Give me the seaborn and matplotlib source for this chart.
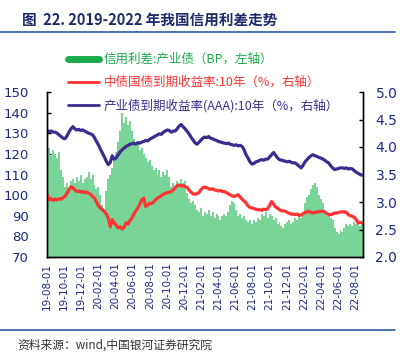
import numpy as np
import pandas as pd
import matplotlib
matplotlib.use("Agg")
import matplotlib.pyplot as plt
import matplotlib.dates as mdates
from matplotlib.lines import Line2D
import seaborn as sns

# ---------------- data (weekly readings, 2019-08 .. 2022-08) ----------------
start_date = "2019-08-02"

spread_bp = [
    121, 123, 119, 122, 120, 118, 121, 112, 109, 104,
    106, 103, 107, 108, 106, 109, 107, 110, 106, 108,
    109, 111, 108, 110, 105, 103, 104, 100, 95, 93,
    102, 108, 110, 113, 118, 121, 126, 131, 140, 135,
    138, 134, 136, 131, 127, 124, 125, 122, 123, 120,
    118, 116, 117, 114, 112, 113, 110, 112, 109, 111,
    110, 112, 109, 104, 106, 104, 107, 105, 108, 106,
    107, 101, 98, 96, 97, 95, 93, 92, 94, 90,
    92, 91, 93, 90, 92, 89, 91, 90, 88, 90,
    91, 90, 92, 95, 97, 96, 93, 90, 91, 89,
    90, 88, 87, 88, 86, 88, 87, 89, 88, 91,
    90, 92, 89, 91, 90, 88, 89, 86, 87, 85,
    84, 86, 87, 88, 86, 87, 89, 88, 90, 89,
    92, 96, 99, 100, 103, 105, 106, 104, 100, 98,
    96, 92, 90, 91, 89, 88, 84, 82, 81, 83,
    82, 84, 86, 85, 86, 85, 87, 86, 87, 85, 86,
]

gov_10y = [
    3.13, 3.04, 3.06, 3.03, 3.05, 3.04, 3.06, 3.05, 3.08, 3.10,
    3.16, 3.22, 3.28, 3.26, 3.22, 3.19, 3.20, 3.18, 3.19, 3.17,
    3.18, 3.16, 3.14, 3.10, 3.07, 3.00, 2.93, 2.89, 2.86, 2.83,
    2.78, 2.71, 2.55, 2.68, 2.62, 2.58, 2.53, 2.55, 2.51, 2.54,
    2.62, 2.60, 2.66, 2.71, 2.78, 2.84, 2.89, 2.96, 3.04, 3.07,
    2.92, 2.94, 2.98, 2.97, 3.00, 3.04, 3.07, 3.09, 3.12, 3.14,
    3.16, 3.17, 3.18, 3.19, 3.22, 3.26, 3.30, 3.31, 3.29, 3.30,
    3.28, 3.27, 3.22, 3.18, 3.15, 3.14, 3.15, 3.17, 3.22, 3.26,
    3.27, 3.26, 3.24, 3.23, 3.24, 3.22, 3.21, 3.20, 3.21, 3.19,
    3.19, 3.17, 3.15, 3.13, 3.11, 3.10, 3.12, 3.13, 3.09, 3.05,
    3.02, 2.98, 2.93, 2.90, 2.89, 2.88, 2.87, 2.86, 2.86, 2.85,
    2.87, 2.86, 2.88, 2.94, 3.01, 2.96, 2.91, 2.89, 2.86, 2.84,
    2.84, 2.83, 2.81, 2.79, 2.78, 2.78, 2.77, 2.78, 2.76, 2.76,
    2.79, 2.81, 2.82, 2.83, 2.81, 2.80, 2.81, 2.82, 2.82, 2.83,
    2.83, 2.82, 2.79, 2.77, 2.77, 2.78, 2.80, 2.80, 2.81, 2.82,
    2.82, 2.82, 2.81, 2.77, 2.75, 2.74, 2.72, 2.68, 2.62, 2.63, 2.62,
]

aaa_10y = [
    4.30, 4.28, 4.29, 4.27, 4.27, 4.25, 4.22, 4.19, 4.16, 4.15,
    4.20, 4.27, 4.33, 4.37, 4.33, 4.31, 4.32, 4.30, 4.31, 4.29,
    4.27, 4.25, 4.24, 4.22, 4.17, 4.10, 4.04, 3.96, 3.89, 3.82,
    3.74, 3.68, 3.72, 3.84, 3.78, 3.80, 3.86, 3.91, 3.95, 3.98,
    4.01, 4.03, 4.05, 4.06, 4.07, 4.05, 4.08, 4.07, 4.09, 4.10,
    4.12, 4.11, 4.14, 4.16, 4.18, 4.20, 4.22, 4.24, 4.23, 4.27,
    4.29, 4.31, 4.30, 4.27, 4.29, 4.29, 4.33, 4.38, 4.41, 4.37,
    4.33, 4.29, 4.24, 4.18, 4.13, 4.08, 4.05, 4.08, 4.12, 4.16,
    4.18, 4.17, 4.19, 4.16, 4.15, 4.13, 4.12, 4.10, 4.09, 4.08,
    4.07, 4.06, 4.07, 4.05, 4.04, 4.03, 4.04, 4.02, 4.03, 4.01,
    3.95, 3.86, 3.80, 3.73, 3.69, 3.70, 3.73, 3.74, 3.76, 3.77,
    3.76, 3.78, 3.78, 3.82, 3.86, 3.90, 3.85, 3.80, 3.77, 3.76,
    3.75, 3.74, 3.73, 3.74, 3.72, 3.71, 3.71, 3.68, 3.65, 3.62,
    3.67, 3.73, 3.77, 3.81, 3.84, 3.86, 3.84, 3.83, 3.81, 3.80,
    3.78, 3.76, 3.73, 3.71, 3.66, 3.62, 3.59, 3.60, 3.61, 3.62,
    3.62, 3.61, 3.62, 3.60, 3.61, 3.60, 3.57, 3.54, 3.52, 3.50, 3.49,
]

legend_labels = [
    "信用利差:产业债（BP，左轴）",
    "中债国债到期收益率:10年（%，右轴）",
    "产业债到期收益率(AAA):10年（%，右轴）",
]
left_ticks = [70, 80, 90, 100, 110, 120, 130, 140, 150]
right_ticks = [2.0, 2.5, 3.0, 3.5, 4.0, 4.5, 5.0]
title_text = "图  22. 2019-2022 年我国信用利差走势"
source_text = "资料来源：wind,中国银河证券研究院"

n = len(spread_bp)
dates = pd.date_range(start_date, periods=n, freq="W-FRI")
df = pd.DataFrame({"date": dates, "spread": spread_bp,
                   "gov": gov_10y[:n], "aaa": aaa_10y[:n]})

# ---------------- style ----------------
sns.set_style("white")
plt.rcParams["font.family"] = ["Noto Sans CJK SC", "DejaVu Sans"]
plt.rcParams["axes.unicode_minus"] = False

GREEN = "#79d497"
GREEN_TXT = "#1faa50"
RED = "#ff3333"
NAVY_LINE = "#3b2d8f"
TICK_C = "#1c2a80"

fig = plt.figure(figsize=(4.08, 3.6), dpi=100)
ax = fig.add_axes([47 / 408, 1 - 257 / 360, (363 - 47) / 408, (257 - 92) / 360])
ax2 = ax.twinx()

# bars
ax.bar(df["date"], df["spread"], width=7, color=GREEN, edgecolor="none",
       antialiased=False, zorder=1)
ax.set_ylim(70, 150)
ax.set_yticks(left_ticks)
ax.set_xlim(pd.Timestamp("2019-08-01"), pd.Timestamp("2022-08-29"))

# lines
sns.lineplot(data=df, x="date", y="gov", ax=ax2, color=RED, lw=2.3)
sns.lineplot(data=df, x="date", y="aaa", ax=ax2, color=NAVY_LINE, lw=2.3)
ax2.set_ylim(2.0, 5.0)
ax2.set_yticks(right_ticks)
ax2.set_yticklabels([f"{v:.1f}" for v in right_ticks])
ax2.set_xlim(pd.Timestamp("2019-08-01"), pd.Timestamp("2022-08-29"))
ax.set_xlabel("")
ax.set_ylabel("")
ax2.set_xlabel("")
ax2.set_ylabel("")

# x ticks every two months
xt = pd.date_range("2019-08-01", "2022-08-01", freq="2MS")
ax.set_xticks(xt)
ax.set_xticklabels([d.strftime("%y-%m-%d") for d in xt], rotation=90,
                   fontsize=7.5, color=TICK_C, family="DejaVu Sans")

for a in (ax, ax2):
    a.spines["top"].set_visible(False)
    for s in ("left", "right", "bottom"):
        a.spines[s].set_color("black")
        a.spines[s].set_linewidth(1.0)
ax.tick_params(axis="y", direction="in", length=3, width=1, colors="black",
               labelcolor=TICK_C, labelsize=9.5, pad=13)
ax.tick_params(axis="x", direction="in", length=3, width=1, colors="black",
               labelcolor=TICK_C, pad=4)
ax2.tick_params(axis="y", direction="in", length=3, width=1, colors="black",
                labelcolor=TICK_C, labelsize=10, pad=9)
for lab in ax.get_yticklabels() + ax2.get_yticklabels():
    lab.set_family("DejaVu Sans")

# legend
handles = [Line2D([], [], color="#1aab4b", lw=5),
           Line2D([], [], color=RED, lw=2),
           Line2D([], [], color=NAVY_LINE, lw=2)]
leg = fig.legend(handles, legend_labels, loc="upper left",
                 bbox_to_anchor=(68 / 408, 1 - 53 / 360), frameon=False,
                 fontsize=9, handlelength=2.5, handletextpad=0.35,
                 labelspacing=0.8, borderpad=0, borderaxespad=0,
                 labelcolor=[GREEN_TXT, RED, NAVY_LINE])

# title, rules and source
fig.text(22 / 408, 1 - 20 / 360, title_text, fontsize=10.5, fontweight="bold",
         color="#1f2a6b", va="center", ha="left")
fig.add_artist(Line2D([0, 395 / 408], [1 - 32 / 360] * 2, color="#2e5a9c", lw=1.2))
fig.add_artist(Line2D([0, 395 / 408], [1 - 330 / 360] * 2, color="#2e5a9c", lw=1.2))
fig.text(17 / 408, 1 - 345 / 360, source_text, fontsize=8.5, style="italic",
         color="#333333", va="center", ha="left")

fig.savefig("out.png", dpi=100)
